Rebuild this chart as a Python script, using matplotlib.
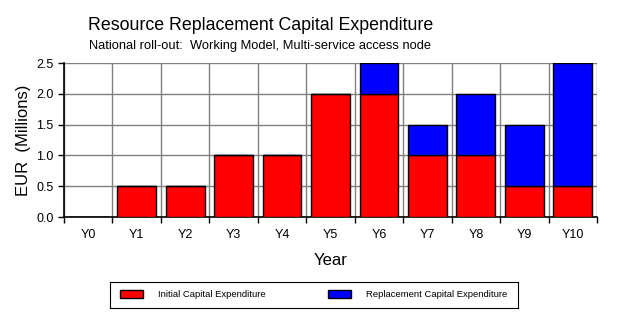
import matplotlib.pyplot as plt
import numpy as np

plt.rcParams['font.family'] = ['Liberation Sans', 'DejaVu Sans']

years = ["Y0", "Y1", "Y2", "Y3", "Y4", "Y5", "Y6", "Y7", "Y8", "Y9", "Y10"]
initial = [0.0, 0.5, 0.5, 1.0, 1.0, 2.0, 2.0, 1.0, 1.0, 0.5, 0.5]
replacement = [0.0, 0.0, 0.0, 0.0, 0.0, 0.0, 0.5, 0.5, 1.0, 1.0, 2.0]

W, H = 626, 322
fig = plt.figure(figsize=(W / 100, H / 100), dpi=100)
ax = fig.add_axes([64 / W, 1 - 217 / H, (597 - 64) / W, (217 - 63) / H])

x = np.arange(len(years))
ax.bar(x, initial, width=0.8, color="#FF0000", edgecolor="black", linewidth=1,
       label="Initial Capital Expenditure", zorder=3)
ax.bar(x, replacement, width=0.8, bottom=initial, color="#0000FF", edgecolor="black",
       linewidth=1, label="Replacement Capital Expenditure", zorder=3)

ax.set_xlim(-0.5, len(years) - 0.5)
ax.set_ylim(0, 2.5)
ax.set_yticks(np.arange(0, 2.51, 0.5))
ax.set_yticklabels([f"{v:.1f}" for v in np.arange(0, 2.51, 0.5)], fontsize=9)
ax.set_xticks(x)
ax.set_xticklabels(years, fontsize=9)
ax.tick_params(axis='x', which='major', length=0, pad=9)
ax.set_xticks(np.arange(-0.5, len(years)), minor=True)
ax.tick_params(axis='x', which='minor', length=4, width=1, color='black')
ax.tick_params(axis='y', length=4, width=1, direction='out', color='black')

ax.grid(True, axis='y', color='#808080', linewidth=1, zorder=0)
ax.grid(True, axis='x', which='minor', color='#808080', linewidth=1, zorder=0)
ax.spines['top'].set_visible(False)
ax.spines['right'].set_visible(False)
ax.spines['left'].set_linewidth(1.2)
ax.spines['bottom'].set_linewidth(1.2)

ax.set_ylabel("EUR  (Millions)", fontsize=12, labelpad=4)
ax.set_xlabel("Year", fontsize=12, labelpad=8)

fig.text(261 / W, 1 - 25 / H, "Resource Replacement Capital Expenditure",
         ha='center', va='center', fontsize=12.8)
fig.text(260 / W, 1 - 46 / H, "National roll-out:  Working Model, Multi-service access node",
         ha='center', va='center', fontsize=9.3)

# legend box
lax = fig.add_axes([110 / W, 1 - 308 / H, (518 - 110) / W, (308 - 282) / H])
lax.set_xticks([])
lax.set_yticks([])
handles, labels = ax.get_legend_handles_labels()
fig.legend(handles, labels, loc='center left', bbox_to_anchor=(120 / W, 1 - 294.5 / H),
           ncol=2, frameon=False, fontsize=6.8, borderpad=0, borderaxespad=0,
           handlelength=2.4, handleheight=0.95, columnspacing=6.6, handletextpad=1.65)

fig.savefig("out.png", dpi=100)
print("Saved: out.png")
